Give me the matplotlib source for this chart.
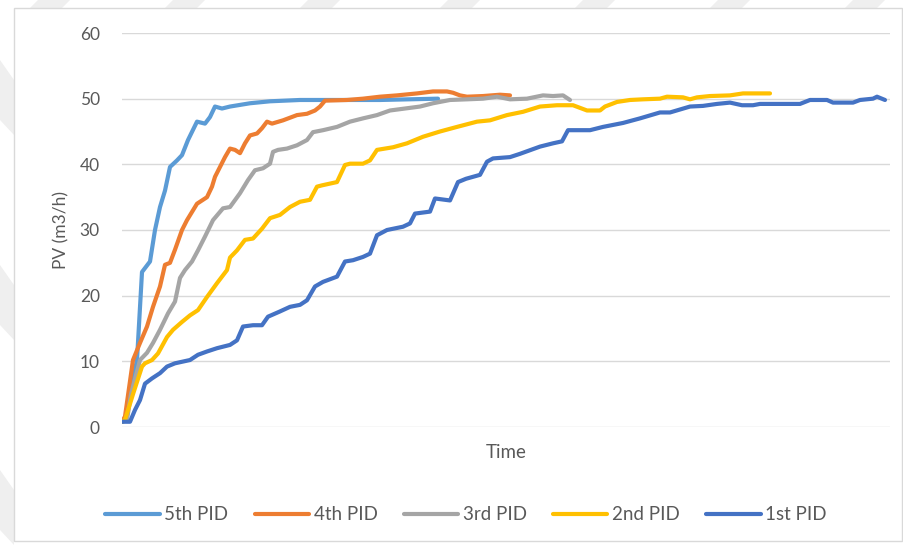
import matplotlib
matplotlib.use("Agg")
import matplotlib.pyplot as plt
from matplotlib.patches import Rectangle, Polygon

# ---- data (time in arbitrary sample units, PV in m3/h) ----
t5 = [0, 4, 8, 15, 20, 28, 33, 38, 43, 48, 55, 60, 66, 75, 83, 88, 93, 100, 108, 128, 148, 178, 258, 316]
pv5 = [0.8, 1.0, 5, 10.2, 23.6, 25.2, 30, 33.5, 36, 39.6, 40.6, 41.4, 43.7, 46.5, 46.2, 47.2, 48.8, 48.5,
       48.8, 49.3, 49.6, 49.8, 49.8, 50]

t4 = [0, 3, 11, 18, 25, 31, 38, 43, 48, 53, 60, 65, 75, 85, 90, 93, 98, 103, 108, 113, 118, 123, 128, 135,
      140, 145, 150, 161, 175, 185, 193, 198, 203, 225, 241, 258, 275, 295, 311, 325, 331, 338, 345, 361,
      378, 388]
pv4 = [0.8, 1.6, 10.2, 12.8, 15.3, 18.3, 21.4, 24.7, 25, 27, 30, 31.5, 34, 35, 36.6, 38.1, 39.6, 41.1, 42.4,
       42.2, 41.7, 43.2, 44.4, 44.7, 45.5, 46.5, 46.2, 46.7, 47.5, 47.7, 48.2, 48.8, 49.7, 49.8, 50, 50.3,
       50.5, 50.8, 51.1, 51.1, 50.9, 50.5, 50.3, 50.4, 50.6, 50.5]

t3 = [0, 5, 9, 18, 25, 31, 38, 46, 53, 58, 63, 70, 76, 83, 91, 101, 108, 118, 126, 133, 141, 148, 151, 156,
      165, 175, 185, 191, 201, 215, 228, 241, 255, 268, 278, 288, 298, 311, 328, 345, 361, 375, 388, 405,
      421, 431, 441, 448]
pv3 = [0.8, 1.1, 5, 10.2, 11.3, 12.8, 14.8, 17.3, 19.1, 22.7, 23.9, 25.2, 26.9, 29, 31.5, 33.3, 33.5, 35.6,
       37.6, 39.1, 39.4, 40.1, 41.9, 42.2, 42.4, 42.9, 43.7, 44.9, 45.2, 45.7, 46.5, 47, 47.5, 48.2, 48.4,
       48.6, 48.8, 49.3, 49.8, 49.9, 50, 50.3, 49.9, 50, 50.5, 50.4, 50.5, 49.8]

t2 = [0, 3, 11, 20, 23, 30, 36, 45, 51, 60, 68, 76, 85, 95, 105, 108, 115, 123, 131, 140, 148, 158, 168,
      178, 188, 195, 200, 215, 223, 228, 241, 248, 255, 271, 285, 301, 318, 335, 355, 368, 385, 401, 418,
      435, 451, 465, 478, 483, 495, 508, 521, 538, 545, 561, 568, 575, 588, 608, 621, 648]
pv2 = [0.8, 1.1, 5, 9.2, 9.7, 10.2, 11.2, 13.7, 14.8, 16, 17, 17.8, 19.8, 21.9, 23.9, 25.8, 26.9, 28.5, 28.7,
       30.2, 31.8, 32.3, 33.5, 34.3, 34.6, 36.6, 36.8, 37.3, 39.9, 40.1, 40.1, 40.6, 42.2, 42.6, 43.2, 44.2,
       45, 45.7, 46.5, 46.7, 47.5, 48, 48.8, 49, 49, 48.2, 48.2, 48.8, 49.5, 49.8, 49.9, 50, 50.3, 50.2,
       49.9, 50.2, 50.4, 50.5, 50.8, 50.8]

t1 = [0, 8, 13, 18, 23, 30, 38, 45, 53, 68, 76, 85, 95, 108, 115, 121, 131, 140, 146, 158, 168, 178, 185,
      193, 201, 215, 223, 231, 241, 248, 255, 265, 281, 288, 293, 308, 313, 328, 336, 344, 358, 365, 371,
      388, 398, 418, 431, 440, 446, 468, 481, 501, 518, 538, 548, 568, 581, 595, 608, 620, 631, 638, 678,
      688, 705, 711, 731, 738, 751, 755, 763]
pv1 = [0.8, 0.8, 2.6, 4.1, 6.6, 7.4, 8.2, 9.2, 9.7, 10.2, 11, 11.5, 12, 12.5, 13.2, 15.3, 15.5, 15.5, 16.8,
       17.6, 18.3, 18.6, 19.3, 21.4, 22.1, 22.9, 25.2, 25.4, 25.9, 26.4, 29.2, 30, 30.5, 31, 32.5, 32.8,
       34.8, 34.5, 37.3, 37.8, 38.4, 40.4, 40.9, 41.1, 41.6, 42.7, 43.2, 43.5, 45.2, 45.2, 45.7, 46.3, 47,
       47.9, 47.9, 48.8, 48.9, 49.2, 49.4, 49, 49, 49.2, 49.2, 49.8, 49.8, 49.4, 49.4, 49.8, 50, 50.3, 49.8]

series_names = ["5th PID", "4th PID", "3rd PID", "2nd PID", "1st PID"]
series_t = [t5, t4, t3, t2, t1]
series_v = [pv5, pv4, pv3, pv2, pv1]
colors = ["#5B9BD5", "#ED7D31", "#A5A5A5", "#FFC000", "#4472C4"]
yticks = [0, 10, 20, 30, 40, 50, 60]

plt.rcParams["font.family"] = ["Lato", "DejaVu Sans"]

fig = plt.figure(figsize=(9.04, 5.46), dpi=100)
fig.patch.set_facecolor("white")

# faint watermark stripes in the margins
wm = "#efefef"
for x0 in [30, 165, 300, 440, 575, 710, 845]:
    fig.patches.append(Polygon([[(x0 + 8) / 904, 1], [(x0 + 40) / 904, 1], [(x0 + 32) / 904, 1 - 8 / 546],
                                [x0 / 904, 1 - 8 / 546]], closed=True, transform=fig.transFigure,
                               facecolor=wm, edgecolor="none", zorder=0))
for y0 in [60, 265, 470]:
    fig.patches.append(Polygon([[0, 1 - y0 / 546], [14 / 904, 1 - (y0 + 20) / 546],
                                [14 / 904, 1 - (y0 + 75) / 546], [0, 1 - (y0 + 60) / 546]], closed=True,
                               transform=fig.transFigure, facecolor=wm, edgecolor="none", zorder=0))

# chart border
fig.patches.append(Rectangle((14 / 904, 5 / 546), 888 / 904, 533 / 546, transform=fig.transFigure,
                             facecolor="white", edgecolor="#d9d9d9", linewidth=1.0, zorder=0.5))

ax = fig.add_axes([122 / 904, 1 - 427 / 546, 768 / 904, 394 / 546])
ax.set_zorder(2)
ax.set_facecolor("none")

for i, (name, tt, vv, c) in enumerate(zip(series_names, series_t, series_v, colors)):
    ax.plot(tt, vv, color=c, lw=3.0, label=name, solid_capstyle="round", solid_joinstyle="round",
            zorder=3 + i)

ax.set_xlim(0, 768)
ax.set_ylim(0, 60)
ax.set_yticks(yticks)
ax.set_yticklabels([str(v) for v in yticks], color="#595959", fontsize=12.5)
ax.set_xticks([])
ax.tick_params(axis="y", length=0, pad=16)
ax.grid(axis="y", color="#d9d9d9", lw=1.0, zorder=0)
for s in ax.spines.values():
    s.set_visible(False)

ax.set_ylabel("PV (m3/h)", color="#595959", fontsize=12.5, labelpad=7)
ax.set_xlabel("Time", color="#595959", fontsize=13.5, labelpad=12)

leg = fig.legend(loc="center", bbox_to_anchor=(466 / 904, 1 - 515 / 546), ncol=5, frameon=False,
                 fontsize=13.5, handlelength=2.9, handletextpad=0.25, columnspacing=1.4)
leg.set_zorder(3)
for txt in leg.get_texts():
    txt.set_color("#595959")

fig.savefig("out.png", dpi=100, facecolor="white")
